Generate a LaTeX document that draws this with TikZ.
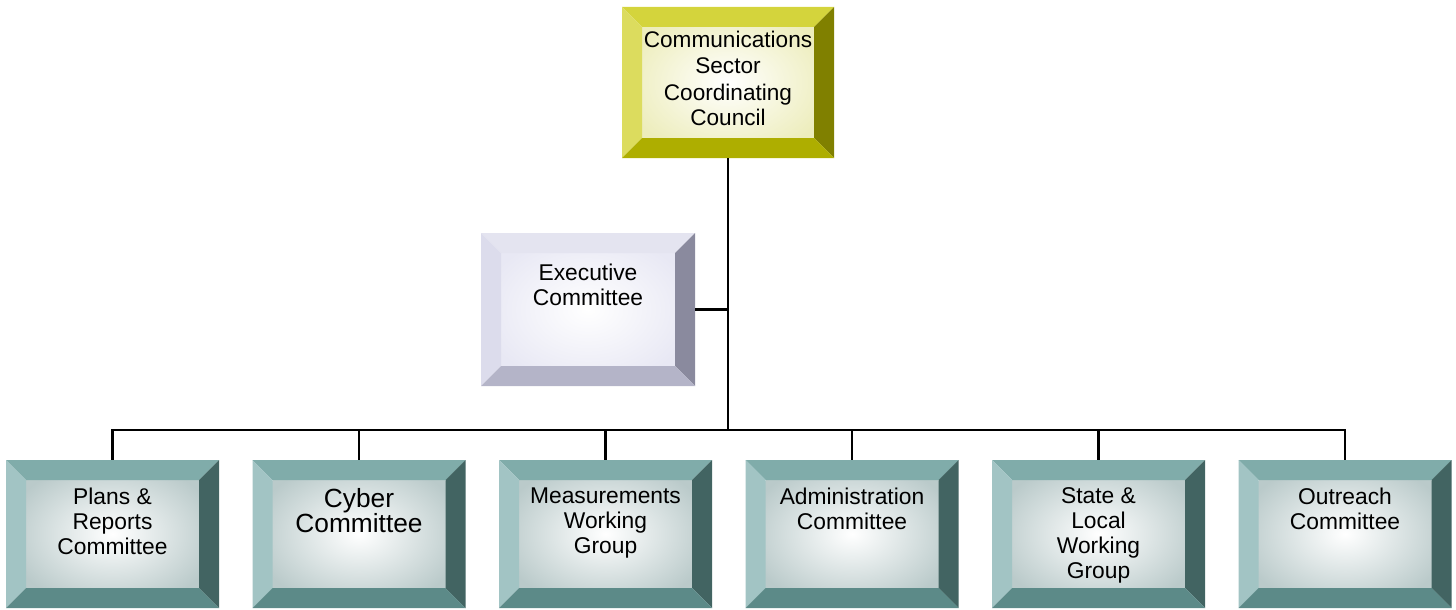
\documentclass[tikz,border=0pt]{standalone}
\usepackage{fontspec}
\setmainfont{Liberation Sans}
\usetikzlibrary{positioning}

% bevel colours of the three kinds of boxes
\definecolor{olvtop}{HTML}{D4D43C}
\definecolor{olvleft}{HTML}{DCDC5E}
\definecolor{olvright}{HTML}{808000}
\definecolor{olvbot}{HTML}{AEAE00}
\definecolor{olvin}{HTML}{EDEDBC}
\definecolor{exctop}{HTML}{E4E4F0}
\definecolor{excleft}{HTML}{DCDCEC}
\definecolor{excright}{HTML}{8A8A9E}
\definecolor{excbot}{HTML}{B4B4C8}
\definecolor{excin}{HTML}{E8E8F4}
\definecolor{tltop}{HTML}{80ACAA}
\definecolor{tlleft}{HTML}{A2C4C4}
\definecolor{tlright}{HTML}{426462}
\definecolor{tlbot}{HTML}{5C8A88}
\definecolor{tlin}{HTML}{BACACA}

\begin{document}
\begin{tikzpicture}[
        x = 1pt, y = -1pt, % pixel-like units
        line width = 2.5pt, % connector style
        bevel/.style = {
            rectangle,
            inner sep = 0pt,
            outer sep = 0pt,
            minimum width = 213pt,
            minimum height = 148pt,
            execute at begin node = {\begin{minipage}[t][\bvht][t]{196pt}\centering\fontsize{22.8}{25}\selectfont},
            execute at end node = {\end{minipage}},
            path picture = {
                \def\pa{path picture bounding box}
                \shade[inner color = white, outer color = bvin]
                    ([shift={(20pt,-20pt)}]\pa.north west) rectangle ([shift={(-20pt,20pt)}]\pa.south east);
                \fill[bvtop] (\pa.north west) -- (\pa.north east)
                    -- ([shift={(-20pt,-20pt)}]\pa.north east) -- ([shift={(20pt,-20pt)}]\pa.north west) -- cycle;
                \fill[bvleft] (\pa.north west) -- ([shift={(20pt,-20pt)}]\pa.north west)
                    -- ([shift={(20pt,20pt)}]\pa.south west) -- (\pa.south west) -- cycle;
                \fill[bvright] (\pa.north east) -- ([shift={(-20pt,-20pt)}]\pa.north east)
                    -- ([shift={(-20pt,20pt)}]\pa.south east) -- (\pa.south east) -- cycle;
                \fill[bvbot] (\pa.south west) -- ([shift={(20pt,20pt)}]\pa.south west)
                    -- ([shift={(-20pt,20pt)}]\pa.south east) -- (\pa.south east) -- cycle;
            }
        },
        council/.code = {\colorlet{bvtop}{olvtop}\colorlet{bvleft}{olvleft}\colorlet{bvright}{olvright}%
            \colorlet{bvbot}{olvbot}\colorlet{bvin}{olvin}\def\bvht{103pt}},
        exec/.code = {\colorlet{bvtop}{exctop}\colorlet{bvleft}{excleft}\colorlet{bvright}{excright}%
            \colorlet{bvbot}{excbot}\colorlet{bvin}{excin}\def\bvht{91pt}},
        cmte/.code = {\colorlet{bvtop}{tltop}\colorlet{bvleft}{tlleft}\colorlet{bvright}{tlright}%
            \colorlet{bvbot}{tlbot}\colorlet{bvin}{tlin}\def\bvht{92pt}}
    ]

    \useasboundingbox (0,0) rectangle (1456,610);

    \node[bevel, council, minimum width = 212pt, minimum height = 151pt] (csc) at (728,82.5)
        {\fontsize{22.6}{26.5}\selectfont Communications\\ Sector\\ Coordinating\\ Council};
    \node[bevel, exec, minimum width = 214pt, minimum height = 153pt] (ec) at (588,309.5)
        {\fontsize{22.8}{23.5}\selectfont Executive\\ Committee};

    \node[bevel, cmte] (plans) at (112.5,534) {Plans \&\\ Reports\\ Committee};
    \node[bevel, cmte] (cyber) [right = 33.5pt of plans] {\fontsize{26.3}{29}\selectfont Cyber\\ Committee};
    \node[bevel, cmte] (meas) [right = 33.5pt of cyber] {Measurements\\ Working\\ Group};
    \node[bevel, cmte] (admin) [right = 33.5pt of meas] {Administration\\ Committee};
    \node[bevel, cmte] (state) [right = 33.5pt of admin] {State \&\\ Local\\ Working\\ Group};
    \node[bevel, cmte] (outr) [right = 33.5pt of state] {Outreach\\ Committee};

    \coordinate (bus) at (728,430);

    \draw (csc.south) -- (bus);
    \draw (ec.east) -- (ec.east -| csc.south);
    \foreach \n in {plans, cyber, meas, admin, state, outr}
        \draw (bus) -| (\n.north);

\end{tikzpicture}
\end{document}
